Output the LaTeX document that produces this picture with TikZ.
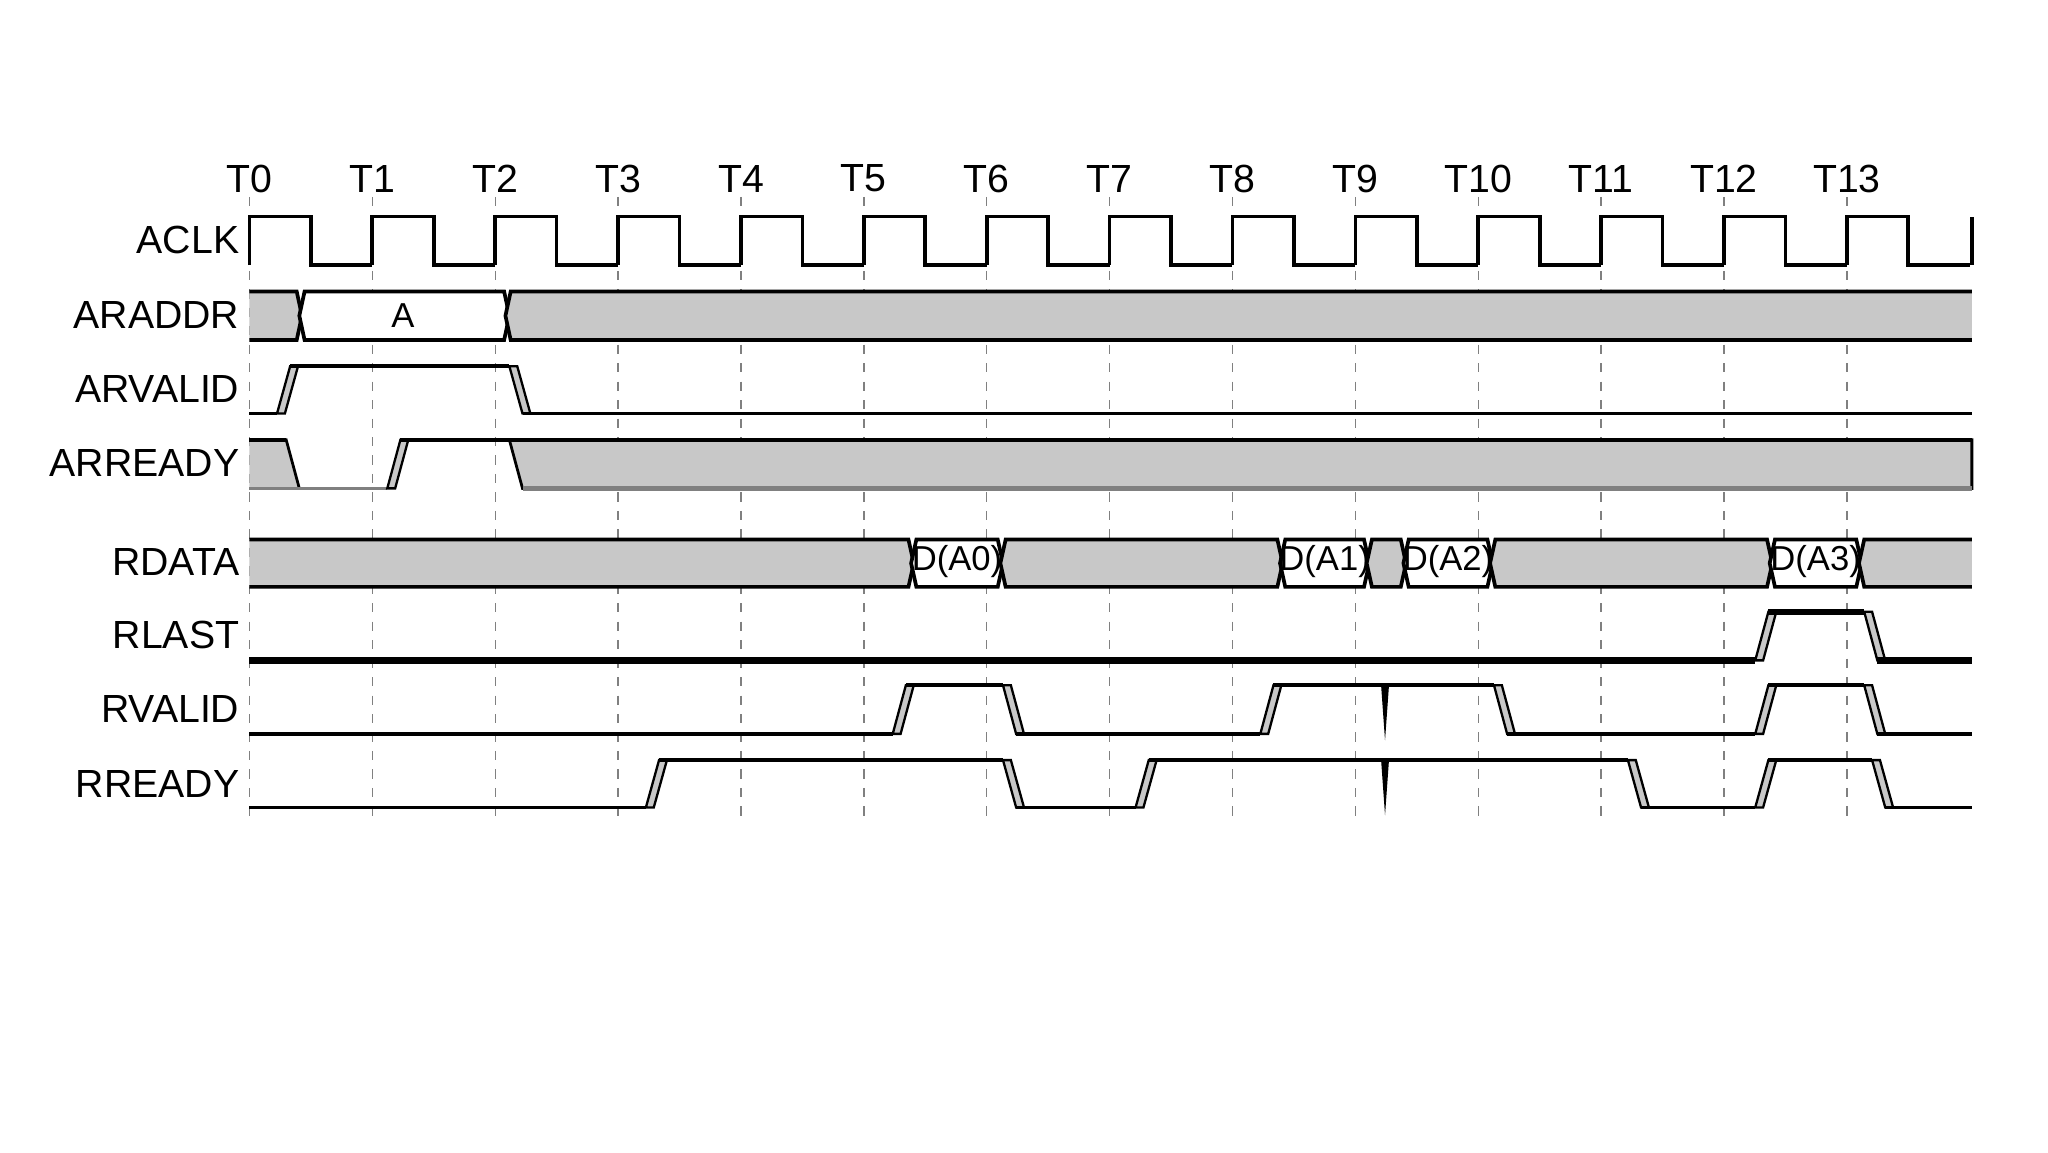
\documentclass[tikz,border=0pt]{standalone}
\usepackage{fontspec}
\setmainfont{Liberation Sans}
\definecolor{wg}{RGB}{200,200,200}
\begin{document}
\begin{tikzpicture}[x=0.01cm,y=-0.01cm,
  sig/.style={line width=0.8pt,black},
  grid/.style={gray,dashed,line width=0.3pt,dash pattern=on 2pt off 2pt},
  lab/.style={font=\fontsize{8.5}{10}\selectfont,anchor=east,inner sep=0pt},
  tl/.style={font=\fontsize{8.5}{10}\selectfont,inner sep=0pt},
  dl/.style={font=\fontsize{7.5}{9}\selectfont,inner sep=0pt}]
\useasboundingbox (0,0) rectangle (1560,877.5);
\fill[white] (0,0) rectangle (1560,877.5);
\newcommand{\rs}[3]{\filldraw[wg,draw=black,line width=0.5pt] (#1,#2)--(#1+6,#2)--(#1+16,#3)--(#1+10,#3)--cycle;}
\newcommand{\fl}[3]{\filldraw[wg,draw=black,line width=0.5pt] (#1,#3)--(#1+6,#3)--(#1+16,#2)--(#1+10,#2)--cycle;}
\newcommand{\bus}[5]{\filldraw[#5,draw=black,line width=0.8pt] (#1,{(#3+#4)/2})--(#1+4,#3)--(#2-4,#3)--(#2,{(#3+#4)/2})--(#2-4,#4)--(#1+4,#4)--cycle;}
% grid and T labels
\foreach \n in {0,...,13}{
  \draw[grid] ({190+93.6*\n},150)--({190+93.6*\n},625);
  \node[tl] (t\n) at ({190+93.6*\n},136) {T\n};
}
% labels
\node[lab] (l1) at (183,183) {ACLK};
\node[lab] (l2) at (183,240) {ARADDR};
\node[lab] (l3) at (183,296) {ARVALID};
\node[lab] (l4) at (183,353) {ARREADY};
\node[lab] (l5) at (183,428) {RDATA};
\node[lab] (l6) at (183,484) {RLAST};
\node[lab] (l7) at (183,540) {RVALID};
\node[lab] (l8) at (183,597) {RREADY};
% clock
\foreach \n in {0,...,13}{
  \draw[sig] ({190+93.6*\n},202)--({190+93.6*\n},165)--({190+93.6*\n+46.8},165)--({190+93.6*\n+46.8},202)--({190+93.6*(\n+1)},202);
}
\draw[sig] (1502,202)--(1502,165);
% buses
\begin{scope}
\clip (190,0) rectangle (1502,877);
\bus{180}{230}{222}{259}{wg}
\bus{228}{388}{222}{259}{white}
\bus{385}{1515}{222}{259}{wg}
\bus{180}{696}{411}{447}{wg}
\bus{694}{764}{411}{447}{white}
\bus{762}{977}{411}{447}{wg}
\bus{975}{1043}{411}{447}{white}
\bus{1041}{1071}{411}{447}{wg}
\bus{1069}{1137}{411}{447}{white}
\bus{1135}{1350}{411}{447}{wg}
\bus{1348}{1418}{411}{447}{white}
\bus{1416}{1515}{411}{447}{wg}
\end{scope}
\node[dl] (a) at (307,240) {A};
\node[dl] (d0) at (729,428) {D(A0)};
\node[dl] (d1) at (1009,428) {D(A1)};
\node[dl] (d2) at (1103,428) {D(A2)};
\node[dl] (d3) at (1383,428) {D(A3)};
% ARVALID
\draw[sig] (190,315)--(211,315);
\rs{211}{315}{279}
\draw[sig] (221,279)--(388,279);
\fl{388}{315}{279}
\draw[sig] (398,315)--(1502,315);
% ARREADY
\filldraw[wg,draw=black,line width=0.6pt] (190,335)--(218,335)--(228,372)--(190,372);
\draw[sig] (190,335)--(218,335);
\draw[sig,gray] (190,372)--(295,372);
\rs{295}{372}{335}
\draw[sig] (305,335)--(1502,335);
\filldraw[wg,draw=black,line width=0.6pt] (388,335)--(1502,335)--(1502,372)--(398,372)--cycle;
\draw[line width=1.2pt,gray] (398,372)--(1502,372);
\draw[sig] (388,335)--(1502,335);
% RLAST
\draw[line width=1.4pt] (190,503)--(1337,503);
\rs{1337}{503}{466}
\draw[line width=1.4pt] (1347,466)--(1420,466);
\fl{1420}{503}{466}
\draw[line width=1.4pt] (1430,503)--(1502,503);
% RVALID
\draw[sig] (190,559)--(680,559);
\rs{680}{559}{522}
\draw[sig] (690,522)--(764,522);
\fl{764}{559}{522}
\draw[sig] (774,559)--(960,559);
\rs{960}{559}{522}
\draw[sig] (970,522)--(1138,522);
\fill (1052,522)--(1058,522)--(1055,564)--cycle;
\fl{1138}{559}{522}
\draw[sig] (1148,559)--(1337,559);
\rs{1337}{559}{522}
\draw[sig] (1347,522)--(1420,522);
\fl{1420}{559}{522}
\draw[sig] (1430,559)--(1502,559);
% RREADY
\draw[sig] (190,615)--(492,615);
\rs{492}{615}{579}
\draw[sig] (502,579)--(764,579);
\fl{764}{615}{579}
\draw[sig] (774,615)--(865,615);
\rs{865}{615}{579}
\draw[sig] (875,579)--(1240,579);
\fill (1052,579)--(1058,579)--(1055,621)--cycle;
\fl{1240}{615}{579}
\draw[sig] (1250,615)--(1337,615);
\rs{1337}{615}{579}
\draw[sig] (1347,579)--(1426,579);
\fl{1426}{615}{579}
\draw[sig] (1436,615)--(1502,615);
\end{tikzpicture}
\end{document}
